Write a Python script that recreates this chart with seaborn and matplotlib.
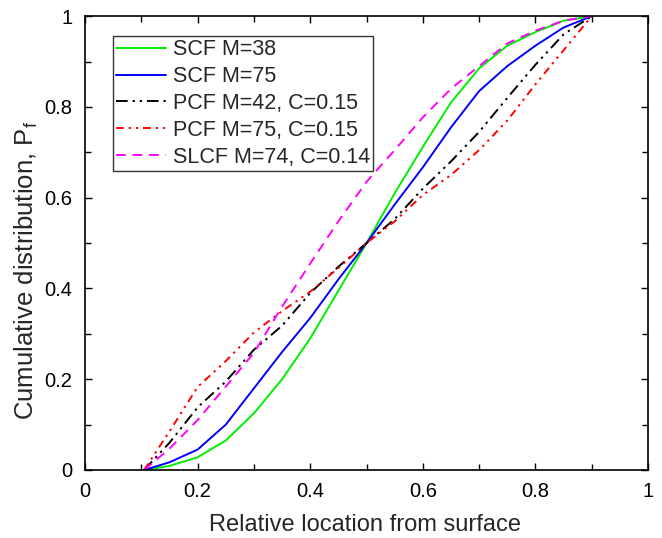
import matplotlib
matplotlib.use("Agg")
import matplotlib.pyplot as plt
import seaborn as sns
import pandas as pd
from matplotlib.ticker import MultipleLocator, FuncFormatter

sns.set_style("ticks")
plt.rcParams['font.family'] = ['Liberation Sans', 'DejaVu Sans']

# Data
x_loc = [0.105, 0.15, 0.2, 0.25, 0.3, 0.35, 0.4, 0.45, 0.5, 0.55, 0.6, 0.65, 0.7, 0.75, 0.8, 0.85, 0.9]
scf_m38 = [0.0, 0.009, 0.028, 0.065, 0.125, 0.2, 0.29, 0.395, 0.5, 0.61, 0.712, 0.81, 0.885, 0.935, 0.965, 0.99, 1.0]
scf_m75 = [0.0, 0.017, 0.045, 0.1, 0.18, 0.26, 0.335, 0.42, 0.5, 0.585, 0.667, 0.755, 0.835, 0.89, 0.935, 0.975, 1.0]
pcf_m42 = [0.0, 0.06, 0.138, 0.195, 0.265, 0.318, 0.39, 0.448, 0.5, 0.553, 0.62, 0.68, 0.745, 0.82, 0.893, 0.96, 1.0]
pcf_m75 = [0.0, 0.085, 0.183, 0.24, 0.303, 0.35, 0.393, 0.445, 0.5, 0.548, 0.606, 0.65, 0.705, 0.77, 0.85, 0.925, 1.0]
slcf_m74 = [0.0, 0.047, 0.11, 0.184, 0.258, 0.36, 0.455, 0.548, 0.635, 0.705, 0.777, 0.84, 0.89, 0.94, 0.968, 0.99, 1.0]

labels = ["SCF M=38", "SCF M=75", "PCF M=42, C=0.15", "PCF M=75, C=0.15", "SLCF M=74, C=0.14"]
series = [scf_m38, scf_m75, pcf_m42, pcf_m75, slcf_m74]
colors = ["#00ee00", "#0000ff", "#000000", "#ff0000", "#ff00ff"]
styles = ["-", "-", (0, (6, 2.5, 1.2, 2.5, 1.2, 2.5)), (0, (4, 2.5, 1.2, 2.5, 1.2, 2.5)), (0, (5, 3.5))]

x_ticks = [0, 0.2, 0.4, 0.6, 0.8, 1]
y_ticks = [0, 0.2, 0.4, 0.6, 0.8, 1]

fig = plt.figure(figsize=(6.62, 5.38), dpi=100)
ax = fig.add_axes([0.1284, 0.1264, 0.8506, 0.8436])

for lab, ys, c, ls in zip(labels, series, colors, styles):
    df = pd.DataFrame({"x": x_loc, "y": ys})
    sns.lineplot(data=df, x="x", y="y", ax=ax, color=c, linestyle=ls,
                 linewidth=1.4, label=lab, errorbar=None, sort=True)

ax.set_xlim(0, 1)
ax.set_ylim(0, 1)
ax.set_xticks(x_ticks)
ax.set_yticks(y_ticks)
fmt = FuncFormatter(lambda v, p: ("%g" % v))
ax.xaxis.set_major_formatter(fmt)
ax.yaxis.set_major_formatter(fmt)
ax.xaxis.set_minor_locator(MultipleLocator(0.1))
ax.yaxis.set_minor_locator(MultipleLocator(0.1))
ax.tick_params(which="both", direction="in", top=True, right=True, color="black",
               width=1.0, labelsize=14.5, labelcolor="black")
ax.tick_params(which="major", length=5, pad=9)
ax.tick_params(which="minor", length=4)
for s in ax.spines.values():
    s.set_visible(True)
    s.set_color("black")
    s.set_linewidth(1.2)

ax.set_xlabel("Relative location from surface", fontsize=17)
ax.xaxis.set_label_coords(0.498, -0.097)
ax.set_ylabel("Cumulative distribution, P$_\\mathregular{f}$", fontsize=18.5)
ax.yaxis.set_label_coords(-0.08, 0.44)

leg = ax.legend(loc="upper left", bbox_to_anchor=(0.05, 0.956), borderaxespad=0,
                fontsize=15.5, frameon=True, fancybox=False, edgecolor="black",
                handlelength=2.3, handletextpad=0.33, labelspacing=0.27,
                borderpad=0.15)
leg.get_frame().set_linewidth(1.0)

fig.savefig("out.png", dpi=100)
